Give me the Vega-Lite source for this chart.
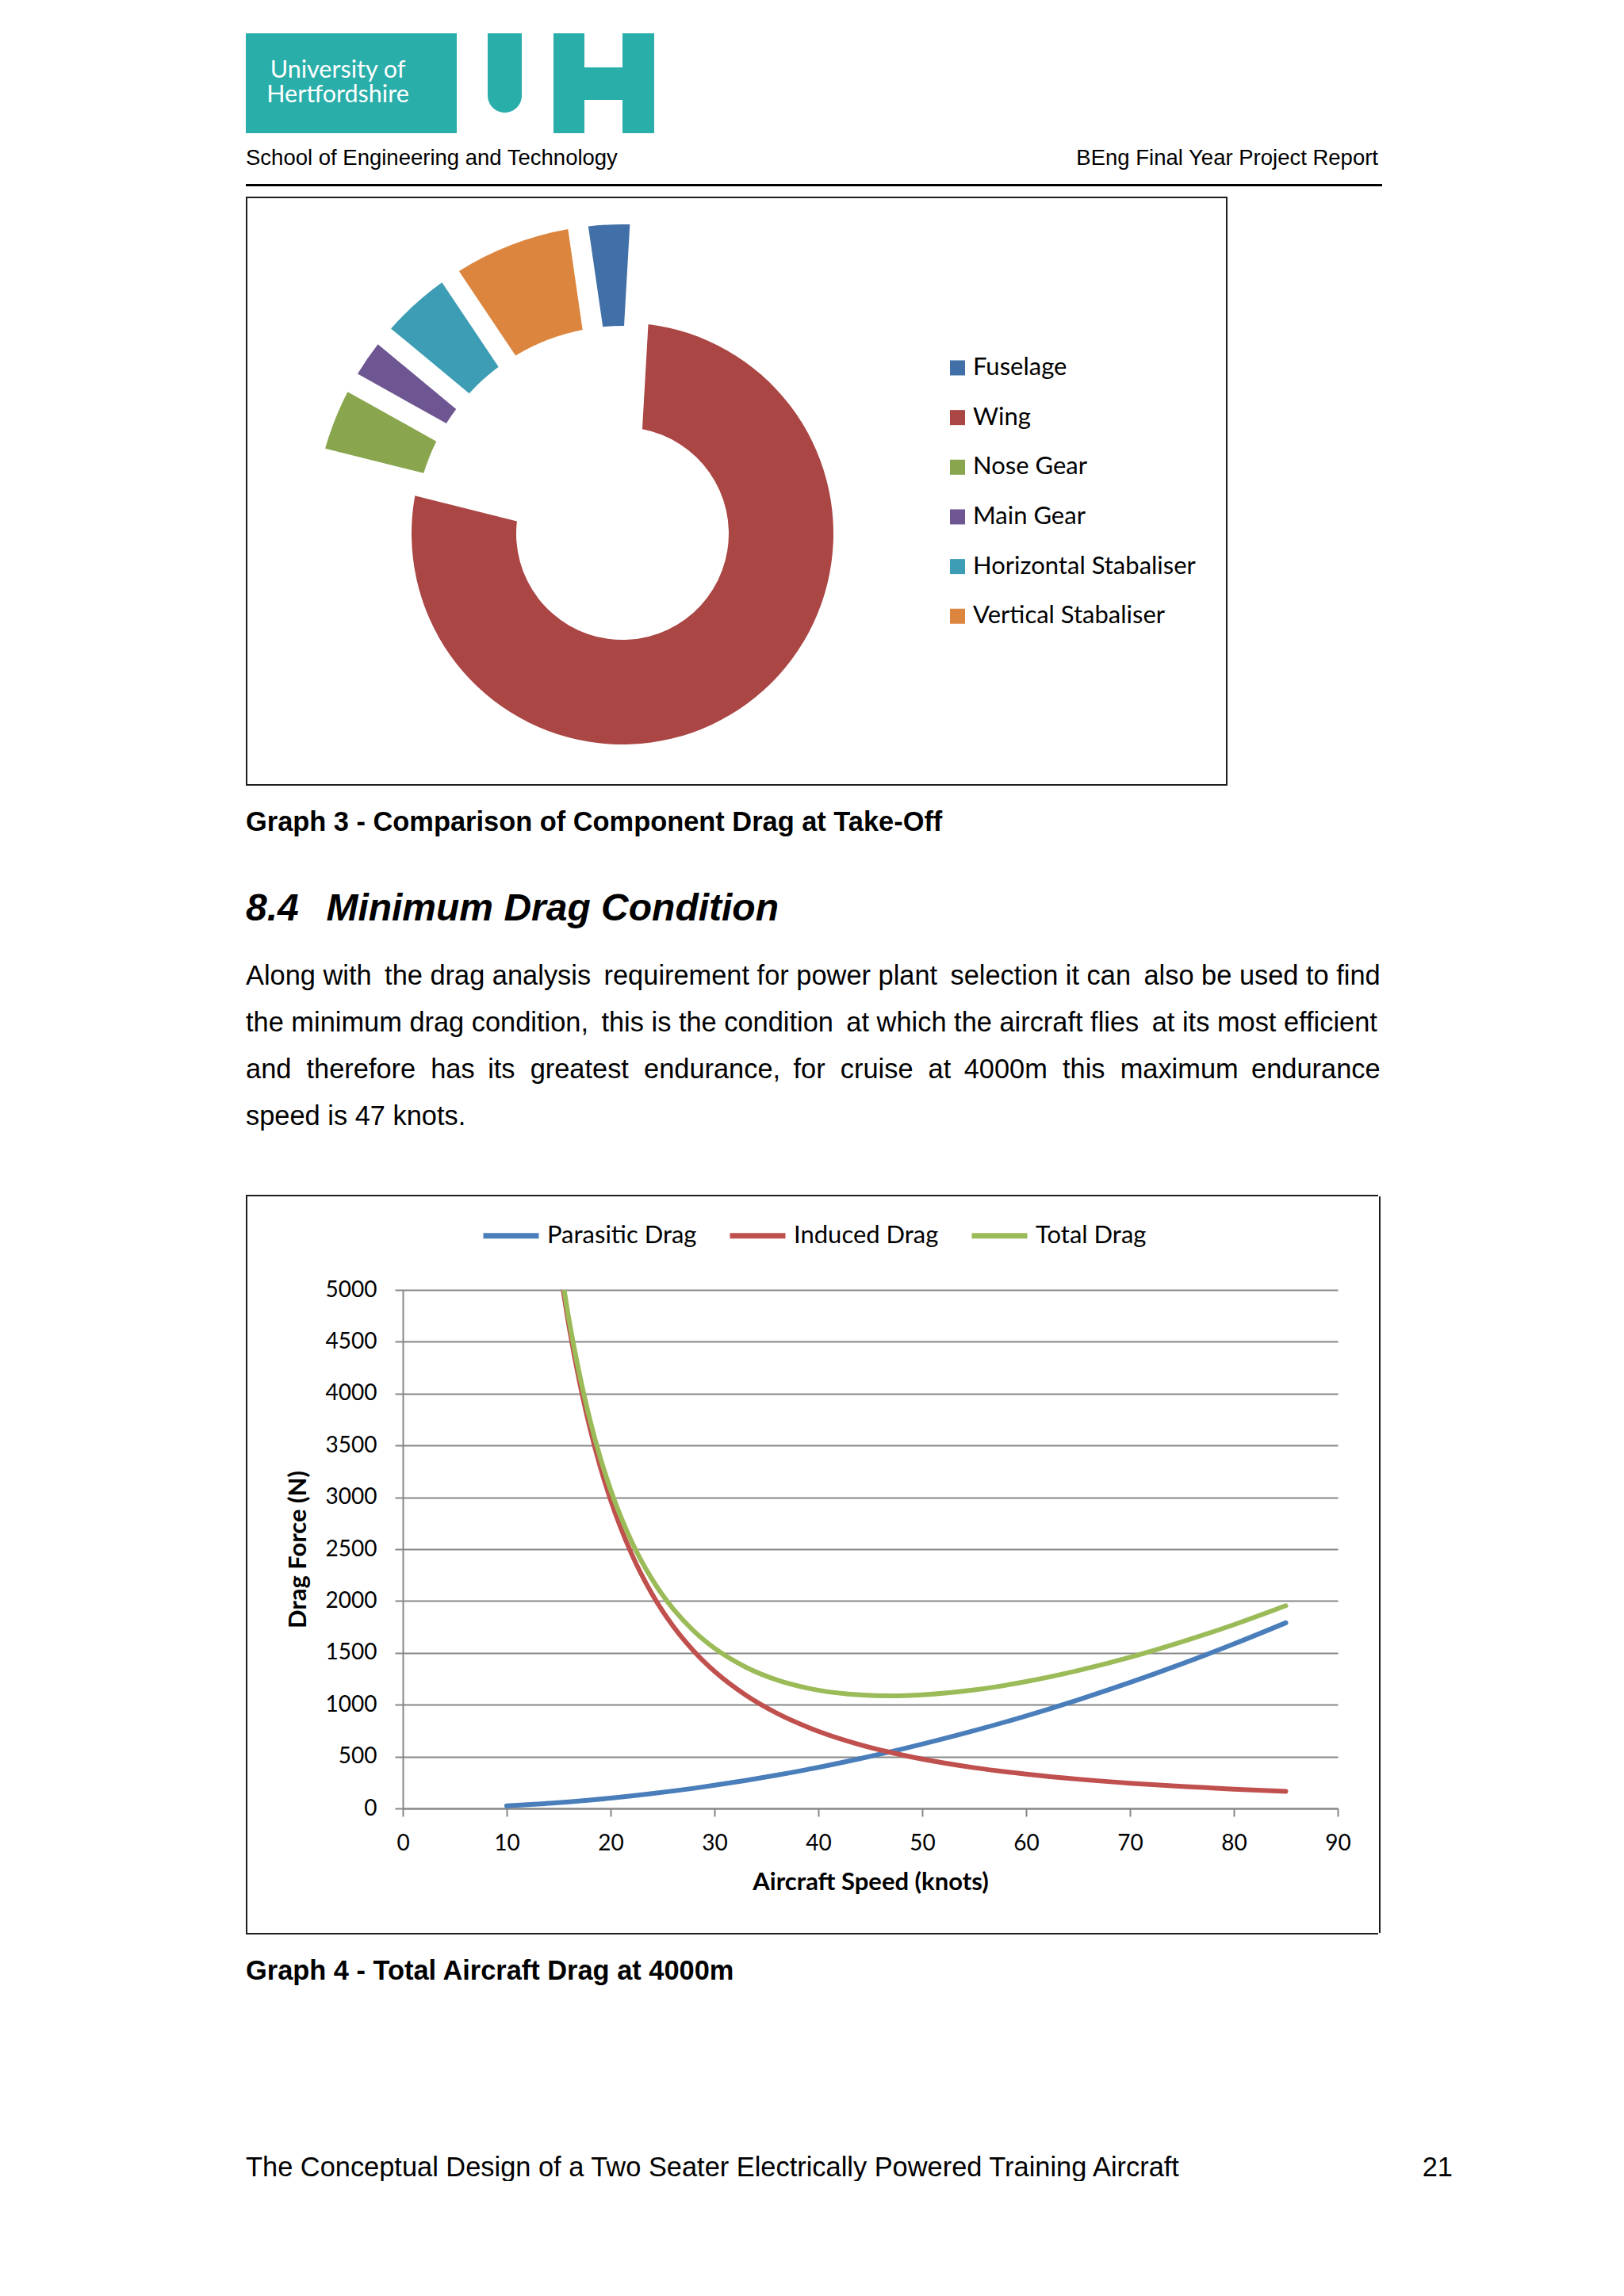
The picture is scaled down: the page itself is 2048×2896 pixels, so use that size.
{
  "$schema": "https://vega.github.io/schema/vega-lite/v6.json",
  "background": "white",
  "padding": {"left": 310, "top": 42, "right": 0, "bottom": 0},
  "spacing": 0,
  "config": {"view": {"stroke": null}, "font": "Liberation Sans", "concat": {"spacing": 0}},
  "resolve": {"scale": {"color": "independent", "theta": "independent"}, "legend": {"color": "independent"}},
  "datasets": {
    "components": [
      {"component": "Fuselage", "drag": 3.2},
      {"component": "Wing", "drag": 78.0},
      {"component": "Nose Gear", "drag": 4.2},
      {"component": "Main Gear", "drag": 2.9},
      {"component": "Horizontal Stabaliser", "drag": 4.6},
      {"component": "Vertical Stabaliser", "drag": 7.1}
    ],
    "drag": [
      {"speed": 10, "series": "Parasitic Drag", "drag": 25},
      {"speed": 12, "series": "Parasitic Drag", "drag": 36},
      {"speed": 14, "series": "Parasitic Drag", "drag": 49},
      {"speed": 16, "series": "Parasitic Drag", "drag": 63},
      {"speed": 18, "series": "Parasitic Drag", "drag": 80},
      {"speed": 20, "series": "Parasitic Drag", "drag": 99},
      {"speed": 22, "series": "Parasitic Drag", "drag": 120},
      {"speed": 24, "series": "Parasitic Drag", "drag": 143},
      {"speed": 26, "series": "Parasitic Drag", "drag": 168},
      {"speed": 28, "series": "Parasitic Drag", "drag": 194},
      {"speed": 30, "series": "Parasitic Drag", "drag": 223},
      {"speed": 33, "series": "Parasitic Drag", "drag": 270},
      {"speed": 36, "series": "Parasitic Drag", "drag": 321},
      {"speed": 40, "series": "Parasitic Drag", "drag": 396},
      {"speed": 44, "series": "Parasitic Drag", "drag": 480},
      {"speed": 47, "series": "Parasitic Drag", "drag": 547},
      {"speed": 50, "series": "Parasitic Drag", "drag": 620},
      {"speed": 55, "series": "Parasitic Drag", "drag": 750},
      {"speed": 60, "series": "Parasitic Drag", "drag": 892},
      {"speed": 65, "series": "Parasitic Drag", "drag": 1047},
      {"speed": 70, "series": "Parasitic Drag", "drag": 1214},
      {"speed": 75, "series": "Parasitic Drag", "drag": 1394},
      {"speed": 80, "series": "Parasitic Drag", "drag": 1586},
      {"speed": 85, "series": "Parasitic Drag", "drag": 1790},
      {"speed": 15, "series": "Induced Drag", "drag": 5289},
      {"speed": 16, "series": "Induced Drag", "drag": 4648},
      {"speed": 17, "series": "Induced Drag", "drag": 4118},
      {"speed": 18, "series": "Induced Drag", "drag": 3673},
      {"speed": 19, "series": "Induced Drag", "drag": 3296},
      {"speed": 20, "series": "Induced Drag", "drag": 2975},
      {"speed": 22, "series": "Induced Drag", "drag": 2459},
      {"speed": 24, "series": "Induced Drag", "drag": 2066},
      {"speed": 26, "series": "Induced Drag", "drag": 1760},
      {"speed": 28, "series": "Induced Drag", "drag": 1518},
      {"speed": 30, "series": "Induced Drag", "drag": 1322},
      {"speed": 33, "series": "Induced Drag", "drag": 1093},
      {"speed": 36, "series": "Induced Drag", "drag": 918},
      {"speed": 40, "series": "Induced Drag", "drag": 744},
      {"speed": 44, "series": "Induced Drag", "drag": 615},
      {"speed": 47, "series": "Induced Drag", "drag": 539},
      {"speed": 50, "series": "Induced Drag", "drag": 476},
      {"speed": 55, "series": "Induced Drag", "drag": 393},
      {"speed": 60, "series": "Induced Drag", "drag": 331},
      {"speed": 65, "series": "Induced Drag", "drag": 282},
      {"speed": 70, "series": "Induced Drag", "drag": 243},
      {"speed": 75, "series": "Induced Drag", "drag": 212},
      {"speed": 80, "series": "Induced Drag", "drag": 186},
      {"speed": 85, "series": "Induced Drag", "drag": 165},
      {"speed": 15, "series": "Total Drag", "drag": 5345},
      {"speed": 16, "series": "Total Drag", "drag": 4711},
      {"speed": 17, "series": "Total Drag", "drag": 4190},
      {"speed": 18, "series": "Total Drag", "drag": 3753},
      {"speed": 19, "series": "Total Drag", "drag": 3385},
      {"speed": 20, "series": "Total Drag", "drag": 3074},
      {"speed": 22, "series": "Total Drag", "drag": 2579},
      {"speed": 24, "series": "Total Drag", "drag": 2209},
      {"speed": 26, "series": "Total Drag", "drag": 1928},
      {"speed": 28, "series": "Total Drag", "drag": 1712},
      {"speed": 30, "series": "Total Drag", "drag": 1545},
      {"speed": 33, "series": "Total Drag", "drag": 1363},
      {"speed": 36, "series": "Total Drag", "drag": 1239},
      {"speed": 40, "series": "Total Drag", "drag": 1140},
      {"speed": 44, "series": "Total Drag", "drag": 1095},
      {"speed": 47, "series": "Total Drag", "drag": 1086},
      {"speed": 50, "series": "Total Drag", "drag": 1096},
      {"speed": 55, "series": "Total Drag", "drag": 1143},
      {"speed": 60, "series": "Total Drag", "drag": 1223},
      {"speed": 65, "series": "Total Drag", "drag": 1329},
      {"speed": 70, "series": "Total Drag", "drag": 1457},
      {"speed": 75, "series": "Total Drag", "drag": 1606},
      {"speed": 80, "series": "Total Drag", "drag": 1772},
      {"speed": 85, "series": "Total Drag", "drag": 1955}
    ]
  },
  "vconcat": [
    {
      "spacing": 0,
      "hconcat": [
        {"width": 232, "height": 126, "data": {"values": [{}]}, "layer": [
          {"mark": {"type": "rect", "color": "#29AEAA"}},
          {"mark": {"type": "text", "text": ["University of", "Hertfordshire"], "color": "#ffffff", "font": "Lato", "fontSize": 30.5, "lineHeight": 31, "align": "center", "baseline": "line-bottom"}}
        ]},
        {"width": 34, "height": 126, "data": {"values": [{}]}, "mark": {"type": "rect", "color": "#29AEAA"}},
        {"width": 39, "height": 126, "data": {"values": [{}]}, "mark": {"type": "rect", "opacity": 0}},
        {"width": 43, "height": 100, "data": {"values": [{}]}, "mark": {"type": "rect", "color": "#29AEAA", "cornerRadiusBottomLeft": 21.5, "cornerRadiusBottomRight": 21.5}},
        {"width": 40, "height": 126, "data": {"values": [{}]}, "mark": {"type": "rect", "opacity": 0}},
        {"width": 39, "height": 126, "data": {"values": [{}]}, "mark": {"type": "rect", "color": "#29AEAA"}},
        {"spacing": 0, "vconcat": [
          {"width": 48, "height": 43, "data": {"values": [{}]}, "mark": {"type": "rect", "opacity": 0}},
          {"width": 48, "height": 41, "data": {"values": [{}]}, "mark": {"type": "rect", "color": "#29AEAA"}}
        ]},
        {"width": 40, "height": 126, "data": {"values": [{}]}, "mark": {"type": "rect", "color": "#29AEAA"}}
      ]
    },
    {
      "spacing": 0,
      "hconcat": [
        {"width": 714, "height": 18, "data": {"values": [{}]}, "mark": {"type": "rect", "opacity": 0},
         "title": {"text": "School of Engineering and Technology", "orient": "bottom", "anchor": "start", "offset": 0, "baseline": "top", "font": "Liberation Sans", "fontSize": 27.5, "fontWeight": "normal", "color": "#000"}},
        {"width": 714, "height": 18, "data": {"values": [{}]}, "mark": {"type": "rect", "opacity": 0},
         "title": {"text": "BEng Final Year Project Report", "orient": "bottom", "anchor": "end", "offset": 0, "baseline": "top", "font": "Liberation Sans", "fontSize": 27.5, "fontWeight": "normal", "color": "#000"}}
      ]
    },
    {"width": 1, "height": 18, "data": {"values": [{}]}, "mark": {"type": "rect", "opacity": 0}},
    {"width": 1433, "height": 3, "data": {"values": [{}]}, "mark": {"type": "rect", "color": "#000"}},
    {"width": 1, "height": 12.5, "data": {"values": [{}]}, "mark": {"type": "rect", "opacity": 0}},
    {
      "spacing": 0,
      "resolve": {"scale": {"color": "independent", "theta": "independent"}, "legend": {"color": "independent"}},
      "vconcat": [
        {"width": 1238, "height": 2, "data": {"values": [{}]}, "mark": {"type": "rect", "color": "#1e1e1e"}},
        {
          "spacing": 0,
          "resolve": {"scale": {"color": "independent", "theta": "independent"}, "legend": {"color": "independent"}},
          "hconcat": [
            {"width": 2, "height": 739, "data": {"values": [{}]}, "mark": {"type": "rect", "color": "#1e1e1e"}},
            {"width": 80, "height": 1, "data": {"values": [{}]}, "mark": {"type": "rect", "opacity": 0}},
            {
              "spacing": 0,
              "resolve": {"scale": {"color": "independent", "theta": "independent"}, "legend": {"color": "independent"}},
              "vconcat": [
                {"width": 1, "height": 33, "data": {"values": [{}]}, "mark": {"type": "rect", "opacity": 0}},
                {
                  "width": 786, "height": 632,
                  "data": {"name": "components"},
                  "transform": [{"stack": "drag", "groupby": [], "as": ["t0", "t1"]}],
                  "encoding": {
                    "theta": {"field": "t0", "type": "quantitative", "scale": {"domain": [0, 100], "range": [-0.144, 6.1392]}},
                    "theta2": {"field": "t1"},
                    "color": {"field": "component", "type": "nominal",
                      "scale": {"domain": ["Fuselage", "Wing", "Nose Gear", "Main Gear", "Horizontal Stabaliser", "Vertical Stabaliser"],
                                "range": ["#4170A8", "#AA4644", "#89A64E", "#6E5692", "#3C9DB5", "#DC853E"]},
                      "legend": null}
                  },
                  "layer": [
                    {"transform": [{"filter": "datum.component === 'Wing'"}], "mark": {"type": "arc", "radius": 266, "radius2": 134, "padAngle": 0.117}},
                    {"transform": [{"filter": "datum.component !== 'Wing'"}], "mark": {"type": "arc", "radius": 390, "radius2": 262, "padAngle": 0.055}}
                  ]
                }
              ]
            },
            {
              "width": 368, "height": 1,
              "data": {"name": "components"},
              "mark": {"type": "rect", "opacity": 0},
              "encoding": {
                "color": {"field": "component", "type": "nominal",
                  "scale": {"domain": ["Fuselage", "Wing", "Nose Gear", "Main Gear", "Horizontal Stabaliser", "Vertical Stabaliser"],
                            "range": ["#4170A8", "#AA4644", "#89A64E", "#6E5692", "#3C9DB5", "#DC853E"]},
                  "legend": {"orient": "none", "legendX": 14, "legendY": 198.5, "title": null, "symbolType": "square", "symbolSize": 361, "symbolStrokeWidth": 0, "symbolOpacity": 1, "labelFont": "Lato", "labelFontSize": 31, "labelColor": "#000", "labelOffset": 4, "rowPadding": 30.65, "padding": 0, "labelLimit": 400}}
              }
            },
            {"width": 2, "height": 739, "data": {"values": [{}]}, "mark": {"type": "rect", "color": "#1e1e1e"}}
          ]
        },
        {"width": 1238, "height": 2, "data": {"values": [{}]}, "mark": {"type": "rect", "color": "#1e1e1e"}}
      ]
    },
    {"width": 1428, "height": 29.5, "data": {"values": [{}]}, "mark": {"type": "rect", "opacity": 0},
     "title": {"text": "Graph 3 - Comparison of Component Drag at Take-Off", "orient": "bottom", "anchor": "start", "offset": 0, "baseline": "top", "font": "Liberation Sans", "fontSize": 34.4, "fontWeight": "bold", "color": "#000"}},
    {"width": 1428, "height": 68.5, "data": {"values": [{}]}, "mark": {"type": "rect", "opacity": 0},
     "title": {"text": "8.4\u00a0\u2006 Minimum Drag Condition", "orient": "bottom", "anchor": "start", "offset": 0, "baseline": "top", "font": "Liberation Sans", "fontSize": 48, "fontWeight": "bold", "fontStyle": "italic", "color": "#000"}},
    {"width": 1428, "height": 44.4, "data": {"values": [{}]}, "mark": {"type": "rect", "opacity": 0},
     "title": {"text": [
       "Along with\u2009 the drag analysis\u2009 requirement for power plant\u2009 selection it can\u2009 also be used to find",
       "the minimum drag condition,\u2009 this is the condition\u2009 at which the aircraft flies\u2009 at its most efficient",
       "and\u00a0 therefore\u00a0 has\u2009 its\u00a0 greatest\u00a0 endurance,\u2009 for\u00a0 cruise\u00a0 at\u2009 4000m\u00a0 this\u00a0 maximum\u2009 endurance",
       "speed is 47 knots."
     ], "orient": "bottom", "anchor": "start", "offset": 0, "baseline": "top", "lineHeight": 59, "font": "Liberation Sans", "fontSize": 34.4, "fontWeight": "normal", "color": "#000"}},
    {"width": 1, "height": 80.8, "data": {"values": [{}]}, "mark": {"type": "rect", "opacity": 0}},
    {
      "spacing": 0,
      "resolve": {"scale": {"color": "independent", "theta": "independent"}, "legend": {"color": "independent"}},
      "vconcat": [
        {"width": 1428, "height": 2, "data": {"values": [{}]}, "mark": {"type": "rect", "color": "#1e1e1e"}},
        {
          "spacing": 0,
          "resolve": {"scale": {"color": "independent", "theta": "independent"}, "legend": {"color": "independent"}},
          "hconcat": [
            {"width": 2, "height": 929, "data": {"values": [{}]}, "mark": {"type": "rect", "color": "#1e1e1e"}},
            {"width": 47.5, "height": 1, "data": {"values": [{}]}, "mark": {"type": "rect", "opacity": 0}},
            {
              "spacing": 0,
              "resolve": {"scale": {"color": "independent", "theta": "independent"}, "legend": {"color": "independent"}},
              "vconcat": [
                {"width": 1, "height": 11, "data": {"values": [{}]}, "mark": {"type": "rect", "opacity": 0}},
                {
                  "width": 1179, "height": 654,
                  "data": {"name": "drag"},
                  "mark": {"type": "line", "clip": true, "strokeWidth": 6, "interpolate": "monotone", "strokeCap": "round"},
                  "encoding": {
                    "x": {"field": "speed", "type": "quantitative", "scale": {"domain": [0, 90], "nice": false, "zero": false},
                      "axis": {"values": [0, 10, 20, 30, 40, 50, 60, 70, 80, 90], "grid": false, "title": "Aircraft Speed (knots)",
                        "titleFont": "Lato", "titleFontSize": 31, "titleFontWeight": "bold", "titleColor": "#000", "titlePadding": 20,
                        "labelFont": "Lato", "labelFontSize": 28, "labelColor": "#000", "labelPadding": 20, "labelFlush": false, "labelOverlap": false,
                        "tickSize": 10, "tickColor": "#878787", "tickWidth": 2, "domainColor": "#878787", "domainWidth": 2}},
                    "y": {"field": "drag", "type": "quantitative", "scale": {"domain": [0, 5000], "nice": false},
                      "axis": {"values": [0, 500, 1000, 1500, 2000, 2500, 3000, 3500, 4000, 4500, 5000], "format": "d", "grid": true, "gridColor": "#878787", "gridWidth": 2,
                        "title": "Drag Force (N)", "titleFont": "Lato", "titleFontSize": 31, "titleFontWeight": "bold", "titleColor": "#000", "titlePadding": 17.5,
                        "labelFont": "Lato", "labelFontSize": 28, "labelColor": "#000", "labelPadding": 23, "labelOverlap": false,
                        "tickSize": 10, "tickColor": "#878787", "tickWidth": 2, "domainColor": "#878787", "domainWidth": 2}},
                    "color": {"field": "series", "type": "nominal",
                      "scale": {"domain": ["Parasitic Drag", "Induced Drag", "Total Drag"], "range": ["#4A7EBB", "#C0504D", "#9BBB59"]},
                      "legend": {"orient": "none", "legendX": 98, "legendY": -107, "direction": "horizontal", "title": null,
                        "symbolType": "stroke", "symbolSize": 4900, "symbolStrokeWidth": 7, "labelFont": "Lato", "labelFontSize": 31,
                        "labelColor": "#000", "labelOffset": 7, "columnPadding": 27, "padding": 0, "labelLimit": 400}}
                  }
                }
              ]
            },
            {"width": 35, "height": 1, "data": {"values": [{}]}, "mark": {"type": "rect", "opacity": 0}},
            {"width": 2, "height": 929, "data": {"values": [{}]}, "mark": {"type": "rect", "color": "#1e1e1e"}}
          ]
        },
        {"width": 1428, "height": 2, "data": {"values": [{}]}, "mark": {"type": "rect", "color": "#1e1e1e"}}
      ]
    },
    {"width": 1428, "height": 29.5, "data": {"values": [{}]}, "mark": {"type": "rect", "opacity": 0},
     "title": {"text": "Graph 4 - Total Aircraft Drag at 4000m", "orient": "bottom", "anchor": "start", "offset": 0, "baseline": "top", "font": "Liberation Sans", "fontSize": 34.4, "fontWeight": "bold", "color": "#000"}},
    {
      "spacing": 0,
      "hconcat": [
        {"width": 1300, "height": 214.6, "data": {"values": [{}]}, "mark": {"type": "rect", "opacity": 0},
         "title": {"text": "The Conceptual Design of a Two Seater Electrically Powered Training Aircraft", "orient": "bottom", "anchor": "start", "offset": 0, "baseline": "top", "font": "Liberation Sans", "fontSize": 34.4, "fontWeight": "normal", "color": "#000"}},
        {"width": 222, "height": 214.6, "data": {"values": [{}]}, "mark": {"type": "rect", "opacity": 0},
         "title": {"text": "21", "orient": "bottom", "anchor": "end", "offset": 0, "baseline": "top", "font": "Liberation Sans", "fontSize": 34.4, "fontWeight": "normal", "color": "#000"}}
      ]
    }
  ]
}
